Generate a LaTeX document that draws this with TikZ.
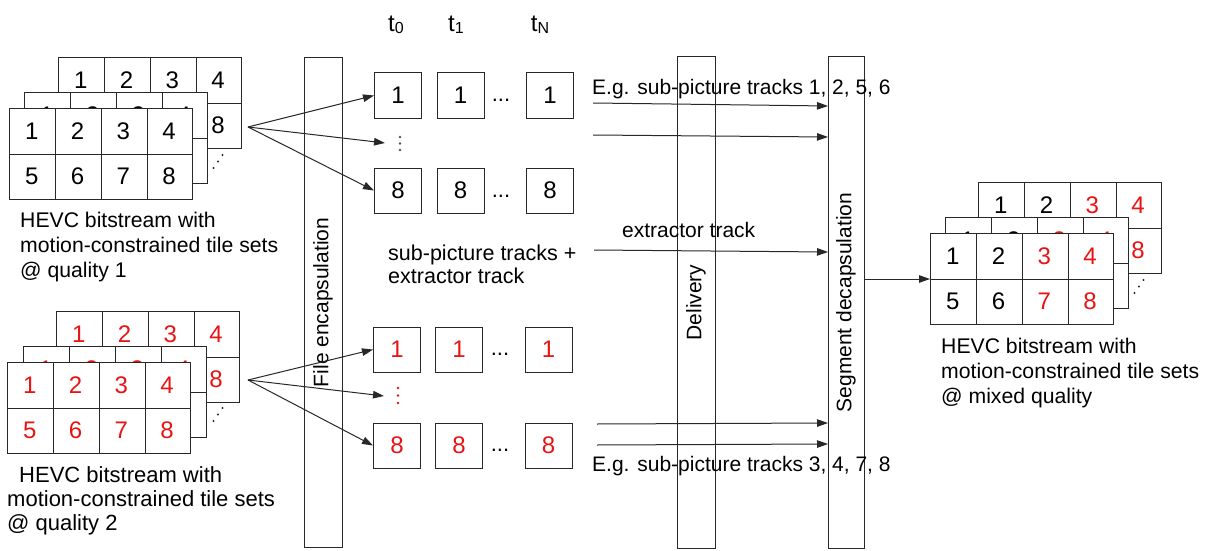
\documentclass[tikz,border=0pt]{standalone}
\usepackage{fontspec}
\setmainfont{Liberation Sans}
\usepackage{graphicx}
\usetikzlibrary{calc,arrows.meta}
\definecolor{myred}{RGB}{232,20,20}
\definecolor{lncol}{RGB}{40,40,40}
\tikzset{
 ln/.style={line width=1pt, draw=lncol},
 frm/.style={ln, fill=white, minimum width=183pt, minimum height=91pt, inner sep=0pt, anchor=north west},
 digit/.style={font=\fontsize{24}{24}\selectfont, inner sep=0pt},
 tbox/.style={ln, fill=white, minimum width=47pt, minimum height=45pt, inner sep=0pt, font=\fontsize{24}{24}\selectfont},
 bar/.style={ln, minimum width=38pt, inner sep=0pt, font=\fontsize{21}{21}\selectfont},
 arr/.style={line width=1pt, draw=lncol, -{Triangle[length=11pt,width=7.5pt]}},
 lbl/.style={font=\fontsize{21}{21}\selectfont, inner sep=0pt, anchor=base west},
 captxt/.style={font=\fontsize{21.2}{25}\selectfont, align=left, inner sep=0pt, anchor=north west},
 tlab/.style={font=\fontsize{24}{24}\selectfont, inner sep=0pt, anchor=base},
 hdots/.style={font=\fontsize{22}{22}\selectfont, inner sep=0pt, anchor=base}
}
\newcommand{\tileframe}[4]{%
 \node[frm] (#1) at (#2) {};
 \foreach \i in {1,2,3}{\draw[ln] ($(#1.north west)!\i/4!(#1.north east)$) -- ($(#1.south west)!\i/4!(#1.south east)$);}
 \draw[ln] (#1.west) -- (#1.east);
 \foreach \c in {0,...,3}{\foreach \r in {0,1}{%
   \pgfmathtruncatemacro{\num}{\r*4+\c+1}%
   \ifnum\c<2 \def\tcol{#3}\else\def\tcol{#4}\fi
   \node[digit, text=\tcol] (#1-\num) at ($(#1.north west)+({(\c+0.5)*45.75},{(\r+0.5)*45.5})$) {\num};
 }}%
}
\newcommand{\diagdots}[3]{%
 \fill[lncol] (#1,#2) circle (1.2pt) (#1+4.5,#2-6.5) circle (1.2pt) (#1+9,#2-13) circle (1.2pt);%
}
\begin{document}
\begin{tikzpicture}[x=1pt,y=-1pt]
\useasboundingbox (0,0) rectangle (1207,551);
% --- left top: quality 1
\tileframe{qa3}{58,57}{black}{black}
\tileframe{qa2}{24,92}{black}{black}
\tileframe{qa1}{9,108}{black}{black}
\diagdots{213.5}{168}{}
\node[captxt] (capa) at (20,211.8) {HEVC bitstream with\\motion-constrained tile sets\\@ quality 1};
% --- left bottom: quality 2
\tileframe{qb3}{56,311}{myred}{myred}
\tileframe{qb2}{23,346}{myred}{myred}
\tileframe{qb1}{7,362}{myred}{myred}
\diagdots{213.5}{421}{}
\node[captxt, font=\fontsize{22}{24}\selectfont] (capb) at (7,466.3) {\hspace*{12pt}HEVC bitstream with\\motion-constrained tile sets\\@ quality 2};
% --- right: mixed
\tileframe{qc3}{978,182}{black}{myred}
\tileframe{qc2}{945,217}{black}{myred}
\tileframe{qc1}{930,233}{black}{myred}
\diagdots{1134.5}{293}{}
\node[captxt] (capc) at (941,337.8) {HEVC bitstream with\\motion-constrained tile sets\\@ mixed quality};
% --- bars
\node[bar, minimum height=489pt] (fe) at (323,302.5) {\rotatebox{90}{File encapsulation}};
\node[bar, minimum height=491pt] (dl) at (696,302.5) {\rotatebox{90}{Delivery}};
\node[bar, minimum width=36pt, minimum height=491pt] (sd) at (846,302.5) {\rotatebox{90}{Segment decapsulation}};
% --- time labels
\node[tlab] (t0) at (396,32) {t\raisebox{-1.5pt}{\fontsize{16}{16}\selectfont 0}};
\node[tlab] (t1) at (456,32) {t\raisebox{-1.5pt}{\fontsize{16}{16}\selectfont 1}};
\node[tlab] (tN) at (540,32) {t\raisebox{-1.5pt}{\fontsize{16}{16}\selectfont N}};
% --- track boxes quality 1
\node[tbox] (b1a) at (398,95.5) {1};
\node[tbox] (b1b) at (460.5,95.5) {1};
\node[tbox] (b1c) at (550,95.5) {1};
\node[hdots] (d1) at (501,101) {...};
\node[tbox] (b8a) at (398,190.5) {8};
\node[tbox] (b8b) at (460.5,190.5) {8};
\node[tbox] (b8c) at (550,190.5) {8};
\node[hdots] (d8) at (501,197) {...};
\fill[lncol!80] (400,137) circle (1.3pt) (400,143.5) circle (1.3pt) (400,150) circle (1.3pt);
\coordinate (vd1) at (385,143);
% --- track boxes quality 2
\node[tbox, text=myred] (r1a) at (397,349.5) {1};
\node[tbox, text=myred] (r1b) at (459,349.5) {1};
\node[tbox, text=myred] (r1c) at (548.5,349.5) {1};
\node[hdots] (e1) at (500,355) {...};
\node[tbox, text=myred] (r8a) at (397,445.5) {8};
\node[tbox, text=myred] (r8b) at (459,445.5) {8};
\node[tbox, text=myred] (r8c) at (548.5,445.5) {8};
\node[hdots] (e8) at (500,451) {...};
\fill[myred] (398,388) circle (1.3pt) (398,395.5) circle (1.3pt) (398,403) circle (1.3pt);
\coordinate (vd2) at (384,396);
% --- arrows from bitstreams
\coordinate (src1) at (248,127);
\coordinate (src2) at (248,380);
\draw[arr] (src1) -- (b1a.west);
\draw[arr] (src1) -- (vd1);
\draw[arr] (src1) -- (b8a.west);
\draw[arr] (src2) -- (r1a.west);
\draw[arr] (src2) -- (vd2);
\draw[arr] (src2) -- (r8a.west);
% --- middle labels
\node[captxt, font=\fontsize{21.5}{23}\selectfont] (spt) at (388,244.6) {sub-picture tracks +\\extractor track};
\node[lbl] (eg1) at (592,94) {E.g. sub-picture tracks 1, 2, 5, 6};
\node[lbl] (ext) at (622,237) {extractor track};
\node[lbl] (eg2) at (592,471) {E.g. sub-picture tracks 3, 4, 7, 8};
% --- delivery arrows
\coordinate (a1s) at (593,103);  \coordinate (a1e) at (828,106);
\coordinate (a2s) at (593,135);  \coordinate (a2e) at (828,137);
\coordinate (a3s) at (594,250);  \coordinate (a3e) at (828,252);
\coordinate (a4s) at (597,424);  \coordinate (a4e) at (828,423);
\coordinate (a5s) at (597,445);  \coordinate (a5e) at (828,444);
\draw[arr] (a1s) -- (a1e);
\draw[arr] (a2s) -- (a2e);
\draw[arr] (a3s) -- (a3e);
\draw[arr] (a4s) -- (a4e);
\draw[arr] (a5s) -- (a5e);
\draw[arr] (sd.east |- qc1.west) -- (qc1.west);
\end{tikzpicture}
\end{document}
